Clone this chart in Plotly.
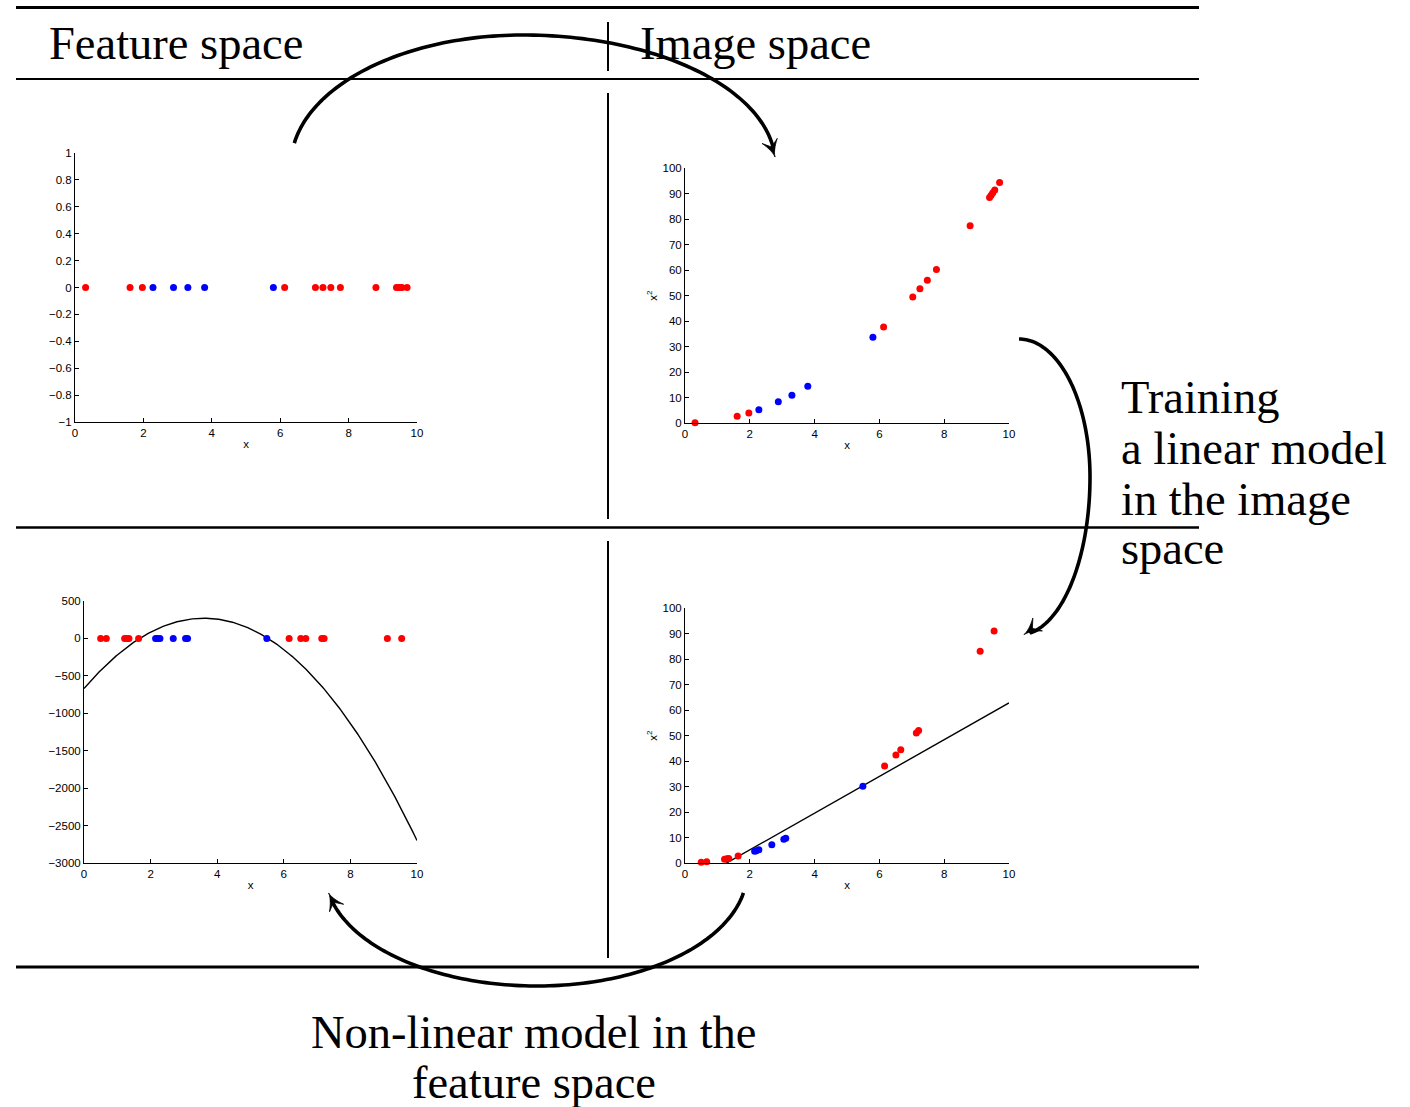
import numpy as np
import plotly.graph_objects as go

W, H = 1410, 1107

# ---- sample used in the top row (feature x and its image x^2) ----
top_red_x = [0.31, 1.61, 1.97, 6.13, 7.03, 7.25, 7.48, 7.76, 8.80, 9.40, 9.45, 9.50, 9.56, 9.71]
top_blue_x = [2.28, 2.88, 3.30, 3.79, 5.80]
top_red_sq = [0.1, 2.6, 3.9, 37.6, 49.4, 52.6, 56.0, 60.2, 77.4, 88.4, 89.3, 90.3, 91.4, 94.3]
top_blue_sq = [5.2, 8.3, 10.9, 14.4, 33.6]

# ---- sample used in the bottom row ----
bot_red_x = [0.50, 0.67, 1.22, 1.29, 1.35, 1.64, 6.16, 6.51, 6.66, 7.14, 7.21, 9.11, 9.54]
bot_blue_x = [2.15, 2.20, 2.28, 2.68, 3.05, 3.11, 5.49]
bot_red_sq = [0.25, 0.45, 1.5, 1.7, 1.8, 2.7, 38.0, 42.4, 44.4, 51.0, 52.0, 83.0, 91.0]
bot_blue_sq = [4.6, 4.8, 5.2, 7.2, 9.3, 9.7, 30.1]

# linear model trained in the image space: f = w_sq * x^2 + w_lin * x + w_bias
w_sq, w_lin, w_bias = -72.5, 522.0, -670.0

x_ticks = [0, 2, 4, 6, 8, 10]
y1_ticks = [-1, -0.8, -0.6, -0.4, -0.2, 0, 0.2, 0.4, 0.6, 0.8, 1]
sq_ticks = [0, 10, 20, 30, 40, 50, 60, 70, 80, 90, 100]
f_ticks = [-3000, -2500, -2000, -1500, -1000, -500, 0, 500]

RED, BLUE = "#ff0000", "#0000ff"
TICK_FONT = dict(family="Liberation Sans, Arial, sans-serif", size=11.5, color="black")
SERIF = "Liberation Serif, Times New Roman, serif"


def px(x):
    return x / W


def py(y):
    return 1 - y / H


fig = go.Figure()


def dots(x, y, color, n):
    fig.add_trace(go.Scatter(
        x=x, y=y, mode="markers", xaxis=f"x{n}", yaxis=f"y{n}",
        marker=dict(color=color, size=7, line=dict(width=0)),
        cliponaxis=False, showlegend=False, hoverinfo="skip"))


# top-left: samples on the x axis
dots(top_red_x, [0] * len(top_red_x), RED, "")
dots(top_blue_x, [0] * len(top_blue_x), BLUE, "")
# top-right: samples mapped to (x, x^2)
dots(top_red_x, top_red_sq, RED, 2)
dots(top_blue_x, top_blue_sq, BLUE, 2)

# bottom-left: non-linear model in the feature space
xs = np.linspace(0, 10, 241)
fig.add_trace(go.Scatter(
    x=xs, y=w_sq * xs ** 2 + w_lin * xs + w_bias, mode="lines",
    line=dict(color="black", width=1.4), xaxis="x3", yaxis="y3",
    showlegend=False, hoverinfo="skip"))
dots(bot_red_x, [0] * len(bot_red_x), RED, 3)
dots(bot_blue_x, [0] * len(bot_blue_x), BLUE, 3)

# bottom-right: linear decision boundary in the image space
xb = np.array([0.0, 10.0])
fig.add_trace(go.Scatter(
    x=xb, y=-(w_lin * xb + w_bias) / w_sq, mode="lines",
    line=dict(color="black", width=1.4), xaxis="x4", yaxis="y4",
    showlegend=False, hoverinfo="skip"))
dots(bot_red_x, bot_red_sq, RED, 4)
dots(bot_blue_x, bot_blue_sq, BLUE, 4)


def axis(domain, rng, ticks, anchor, title=None):
    d = dict(domain=domain, range=rng, tickvals=ticks, anchor=anchor,
             showline=True, linecolor="black", linewidth=1,
             ticks="inside", ticklen=4, tickcolor="black", tickwidth=1,
             showgrid=False, zeroline=False, tickfont=TICK_FONT,
             exponentformat="none", fixedrange=True, automargin=False)
    if title:
        d["title"] = dict(text=title, font=TICK_FONT, standoff=2)
    return d


panels = {
    "": ((75, 417), (153, 422), [-1, 1], y1_ticks, None),
    "2": ((685, 1009), (168, 423), [0, 100], sq_ticks, "x<sup>2</sup>"),
    "3": ((84, 417), (601, 863), [-3000, 500], f_ticks, None),
    "4": ((685, 1009), (608, 863), [0, 100], sq_ticks, "x<sup>2</sup>"),
}
layout_axes = {}
for k, (xr, yr, yrng, yt, ytitle) in panels.items():
    layout_axes[f"xaxis{k}"] = axis([px(xr[0]), px(xr[1])], [0, 10], x_ticks, f"y{k}", "x")
    layout_axes[f"yaxis{k}"] = axis([py(yr[1]), py(yr[0])], yrng, yt, f"x{k}", ytitle)

fig.update_layout(**layout_axes)

# ---- frame: horizontal rules and the vertical divider ----
shapes = []


def hline(y, w):
    shapes.append(dict(type="line", xref="paper", yref="paper",
                       x0=px(16), x1=px(1199), y0=py(y), y1=py(y),
                       line=dict(color="black", width=w)))


def vline(y0, y1):
    shapes.append(dict(type="line", xref="paper", yref="paper",
                       x0=px(608), x1=px(608), y0=py(y0), y1=py(y1),
                       line=dict(color="black", width=2)))


hline(7.5, 3)
hline(79, 2)
hline(527.5, 2.5)
hline(967, 3)
vline(22, 71)
vline(93, 519)
vline(541, 958)


# ---- curved arrows ----
def ellipse_arc(cx, cy, rx_left, rx_right, ry_up, ry_down, t_a, t_b, n=120):
    """Elliptical arc whose radii may differ on each side of its centre.
    Angles in degrees, counter-clockwise, with screen y pointing down."""
    pts = []
    for t in np.linspace(np.radians(t_a), np.radians(t_b), n):
        c, s = np.cos(t), np.sin(t)
        rx = rx_left if c < 0 else rx_right
        ry = ry_up if s > 0 else ry_down
        pts.append((cx + rx * c, cy - ry * s))
    return np.array(pts)


def svg(pts, close=False):
    s = "M " + " L ".join(f"{px(x):.5f},{py(y):.5f}" for x, y in pts)
    return s + (" Z" if close else "")


def arrow(curve, direction):
    curve = np.asarray(curve, float)
    tip = curve[-1].copy()
    d = np.array(direction, float)
    d /= np.hypot(*d)
    nrm = np.array([-d[1], d[0]])
    keep = np.hypot(*(curve - tip).T) > 7
    curve = np.vstack([curve[keep], tip - 7 * d])
    shapes.append(dict(type="path", xref="paper", yref="paper", path=svg(curve),
                       line=dict(color="black", width=3.6)))
    L, Wd = 17, 8
    head = []
    for t in np.linspace(0, 1, 8):
        head.append(tip - L * t * d + Wd * t ** 1.6 * nrm)
    head.append(tip - 0.62 * L * d)
    for t in np.linspace(1, 0, 8):
        head.append(tip - L * t * d - Wd * t ** 1.6 * nrm)
    shapes.append(dict(type="path", xref="paper", yref="paper", path=svg(head, True),
                       fillcolor="black", line=dict(color="black", width=0.8)))


# feature space -> image space (over the top)
arrow(ellipse_arc(523, 165, 232, 252.5, 130, 130, 170.3, 3.5), (7, 21))
# training in the image space (down the right side)
arrow(ellipse_arc(1019, 477, 71, 71, 138, 158, 90, -86), (-15.5, 11.5))
# back to the feature space (under the bottom)
arrow(ellipse_arc(537, 872, 212, 210, 114, 114, -10.6, -169.4), (-9, -17))

fig.update_layout(shapes=shapes)

# ---- text ----
annotations = []


def label(text, x, y, anchor="left"):
    annotations.append(dict(text=text, x=px(x), y=py(y), xref="paper", yref="paper",
                            xanchor=anchor, yanchor="middle", showarrow=False,
                            font=dict(family=SERIF, size=46.5, color="black")))


label("Feature space", 47, 43)
label("Image space", 638, 43)
label("Training", 1119, 397)
label("a linear model", 1119, 448)
label("in the image", 1119, 499)
label("space", 1119, 549)
label("Non-linear model in the", 534, 1032, "center")
label("feature space", 534, 1082, "center")

fig.update_layout(
    annotations=annotations,
    width=W, height=H,
    margin=dict(l=0, r=0, t=0, b=0, pad=0, autoexpand=False),
    paper_bgcolor="white", plot_bgcolor="white",
    showlegend=False,
)

fig.write_html("out.html")
